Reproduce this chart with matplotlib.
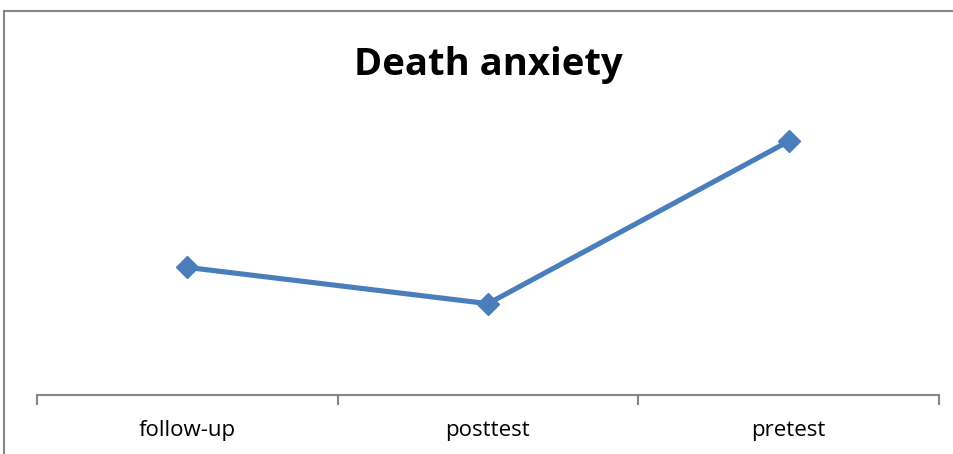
import matplotlib
matplotlib.use("Agg")
import matplotlib.pyplot as plt
from matplotlib.lines import Line2D

categories = ["follow-up", "posttest", "pretest"]
values = [8.8, 6.3, 17.5]
title = "Death anxiety"

W, H = 954, 454
fig = plt.figure(figsize=(W / 100, H / 100), dpi=100)
fig.patch.set_facecolor("white")

# chart-area border (top and left edges visible)
border_col = "#868686"
fig.add_artist(Line2D([4 / W, 1.0], [1 - 11 / H, 1 - 11 / H], transform=fig.transFigure,
                      color=border_col, lw=1.5))
fig.add_artist(Line2D([4 / W, 4 / W], [0.0, 1 - 11 / H], transform=fig.transFigure,
                      color=border_col, lw=1.5))

left, right = 37 / W, 939 / W
bottom, top = (H - 395) / H, (H - 105) / H
ax = fig.add_axes([left, bottom, right - left, top - bottom])
ax.set_facecolor("none")

x = list(range(len(categories)))
ax.plot(x, values, color="#4A7EBB", lw=3.7, marker="D", markersize=11,
        markerfacecolor="#4A7EBB", markeredgecolor="#4A7EBB", solid_joinstyle="round")

ax.set_xlim(-0.5, len(categories) - 0.5)
ax.set_ylim(0, 20)
ax.set_yticks([])
for s in ("top", "right", "left"):
    ax.spines[s].set_visible(False)
ax.spines["bottom"].set_color(border_col)
ax.spines["bottom"].set_linewidth(1.5)

ax.set_xticks([i - 0.5 for i in range(len(categories) + 1)])
ax.set_xticklabels([])
ax.set_xticks(x, minor=True)
ax.set_xticklabels(categories, minor=True, fontsize=16, family="Open Sans")
ax.tick_params(axis="x", which="major", length=7, width=1.5, color=border_col, direction="out")
ax.tick_params(axis="x", which="minor", length=0, pad=18)

fig.text(488 / W, 1 - 65 / H, title, ha="center", va="center", fontsize=27.5,
         fontweight="bold", family="Open Sans")

fig.savefig("out.png", dpi=100)
